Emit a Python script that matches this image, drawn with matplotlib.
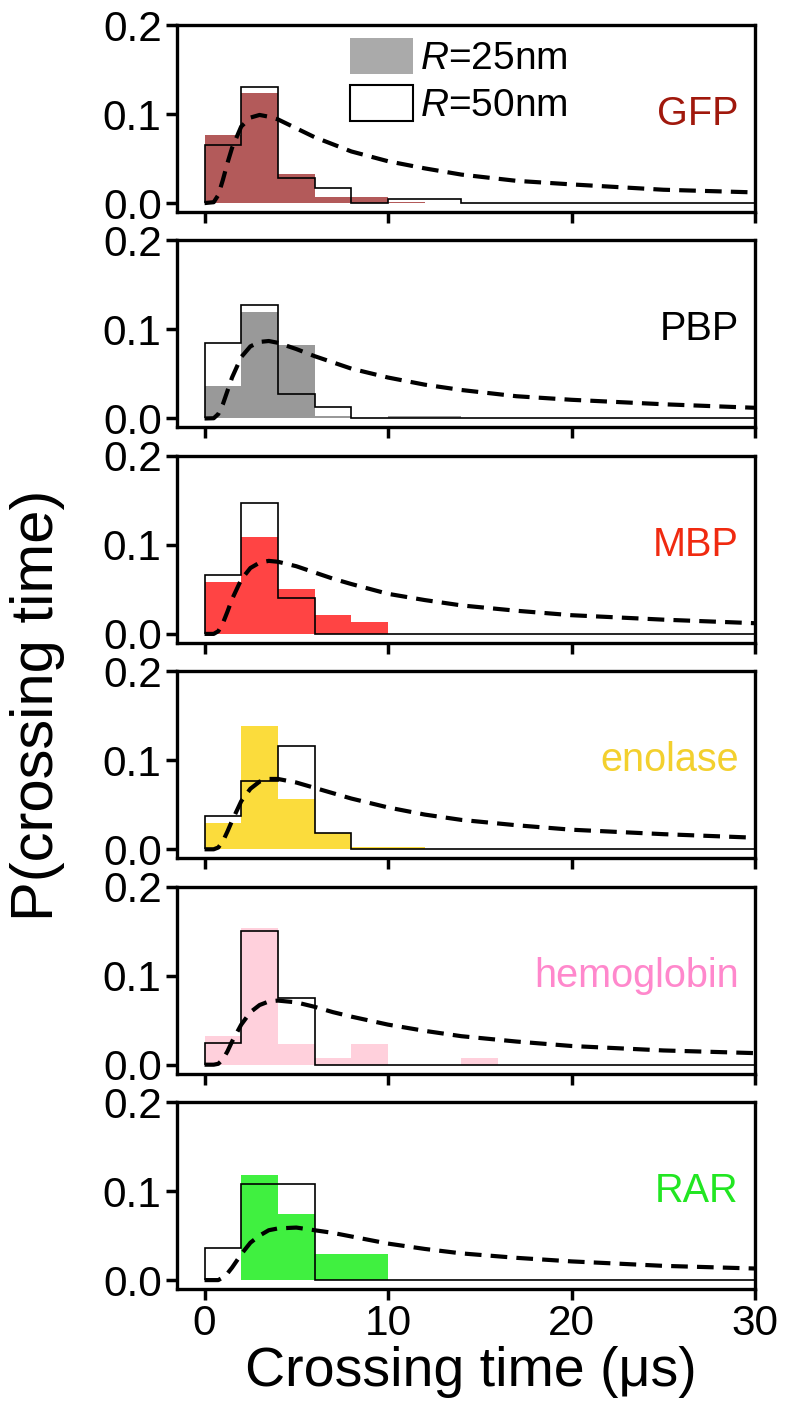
import matplotlib
matplotlib.use("Agg")
import matplotlib.pyplot as plt
from matplotlib.patches import Patch
import numpy as np

plt.rcParams['font.family'] = ['Liberation Sans', 'DejaVu Sans']
plt.rcParams['mathtext.fontset'] = 'custom'
plt.rcParams['mathtext.it'] = 'Liberation Sans:italic'
plt.rcParams['mathtext.rm'] = 'Liberation Sans'

# ---------------- data ----------------
proteins = ["GFP", "PBP", "MBP", "enolase", "hemoglobin", "RAR"]
bin_edges = [0, 2, 4, 6, 8, 10, 12, 14, 16, 18, 20, 22, 24, 26, 28, 30]

fill_gfp = [0.076, 0.124, 0.033, 0.0065, 0.0065, 0.001, 0, 0, 0, 0, 0, 0, 0, 0, 0]
fill_pbp = [0.037, 0.120, 0.083, 0.003, 0, 0.0023, 0.0023, 0, 0, 0, 0, 0, 0, 0, 0]
fill_mbp = [0.058, 0.109, 0.050, 0.021, 0.0135, 0, 0, 0, 0, 0, 0, 0, 0, 0, 0]
fill_eno = [0.029, 0.139, 0.056, 0.018, 0.003, 0.003, 0, 0, 0, 0, 0, 0, 0, 0, 0]
fill_hem = [0.032, 0.153, 0.0235, 0.007, 0.0235, 0, 0, 0.007, 0, 0, 0, 0, 0, 0, 0]
fill_rar = [0, 0.118, 0.074, 0.029, 0.029, 0, 0, 0, 0, 0, 0, 0, 0, 0, 0]

out_gfp = [0.065, 0.130, 0.028, 0.0165, 0, 0.005, 0.005, 0, 0, 0, 0, 0, 0, 0, 0]
out_pbp = [0.085, 0.127, 0.028, 0.0127, 0, 0, 0, 0, 0, 0, 0, 0, 0, 0, 0]
out_mbp = [0.0665, 0.1465, 0.040, 0, 0, 0, 0, 0, 0, 0, 0, 0, 0, 0, 0]
out_eno = [0.0375, 0.077, 0.116, 0.018, 0, 0, 0, 0, 0, 0, 0, 0, 0, 0, 0]
out_hem = [0.024, 0.150, 0.075, 0, 0, 0, 0, 0, 0, 0, 0, 0, 0, 0, 0]
out_rar = [0.036, 0.1075, 0.1075, 0, 0, 0, 0, 0, 0, 0, 0, 0, 0, 0, 0]

curve_t = [0, 0.5, 0.75, 1, 1.25, 1.5, 2, 2.5, 3, 3.5, 4, 5, 6, 7, 8, 10, 12, 14, 17, 20, 25, 30]
curve_gfp = [0, 0.001, 0.009, 0.026, 0.045, 0.062, 0.086, 0.096, 0.099, 0.097, 0.094, 0.084, 0.074, 0.066, 0.058, 0.047, 0.039, 0.032, 0.025, 0.021, 0.015, 0.012]
curve_pbp = [0, 0.0003, 0.005, 0.016, 0.031, 0.046, 0.069, 0.081, 0.086, 0.087, 0.085, 0.078, 0.070, 0.063, 0.056, 0.046, 0.038, 0.032, 0.025, 0.021, 0.016, 0.012]
curve_mbp = [0, 0, 0.003, 0.012, 0.025, 0.039, 0.061, 0.074, 0.080, 0.082, 0.081, 0.076, 0.069, 0.062, 0.056, 0.045, 0.038, 0.032, 0.026, 0.021, 0.016, 0.012]
curve_eno = [0, 0, 0.002, 0.009, 0.020, 0.032, 0.054, 0.068, 0.076, 0.079, 0.079, 0.075, 0.069, 0.063, 0.057, 0.047, 0.039, 0.033, 0.027, 0.022, 0.017, 0.013]
curve_hem = [0, 0, 0.001, 0.006, 0.015, 0.026, 0.045, 0.059, 0.067, 0.071, 0.072, 0.070, 0.065, 0.059, 0.054, 0.045, 0.038, 0.032, 0.026, 0.021, 0.016, 0.013]
curve_rar = [0, 0, 0, 0.003, 0.0075, 0.014, 0.029, 0.042, 0.050, 0.056, 0.058, 0.059, 0.056, 0.053, 0.049, 0.041, 0.035, 0.030, 0.025, 0.021, 0.016, 0.013]

fill_colors = ["#b35a5a", "#999999", "#ff4444", "#fbdc3c", "#ffd0dc", "#40f040"]
label_colors = ["#a0180c", "#000000", "#f02a10", "#f3d02e", "#ff88cc", "#22e622"]

fills = [fill_gfp, fill_pbp, fill_mbp, fill_eno, fill_hem, fill_rar]
outs = [out_gfp, out_pbp, out_mbp, out_eno, out_hem, out_rar]
curves = [curve_gfp, curve_pbp, curve_mbp, curve_eno, curve_hem, curve_rar]

xticks = [0, 10, 20, 30]
yticks = [0.0, 0.1, 0.2]
ytick_labels = ["0.0", "0.1", "0.2"]

# ---------------- layout ----------------
W, H = 785, 1420
fig = plt.figure(figsize=(W / 100, H / 100), dpi=100)
left_px, right_px = 177, 755
top0, period, h_px = 25, 215.4, 187

axes = []
for k in range(6):
    top = top0 + period * k
    ax = fig.add_axes([left_px / W, 1 - (top + h_px) / H, (right_px - left_px) / W, h_px / H])
    axes.append(ax)

for k, ax in enumerate(axes):
    ax.stairs(fills[k], bin_edges, fill=True, color=fill_colors[k], linewidth=0, zorder=1)
    ax.stairs(outs[k], bin_edges, fill=False, color="black", linewidth=1.2, baseline=0, zorder=2)
    ax.plot(curve_t, curves[k], color="black", linestyle=(0, (4, 2.2)), linewidth=3.0, zorder=3)
    ax.set_xlim(-1.5, 30)
    ax.set_ylim(-0.01, 0.2)
    ax.set_xticks(xticks)
    ax.set_yticks(yticks)
    ax.set_yticklabels(ytick_labels)
    ax.tick_params(axis="both", direction="out", length=8, width=2.5, labelsize=30.5, pad=3)
    if k < 5:
        ax.set_xticklabels([])
    for sp in ax.spines.values():
        sp.set_linewidth(2.4)
    ax.text(0.972, 0.1, proteins[k], transform=ax.get_yaxis_transform(), ha="right", va="center",
            fontsize=28.5, color=label_colors[k])

handles = [Patch(facecolor="#aaaaaa", edgecolor="none"),
           Patch(facecolor="white", edgecolor="black", linewidth=1.5)]
axes[0].legend(handles, [r"$\mathit{R}$=25nm", r"$\mathit{R}$=50nm"], loc="upper left",
               bbox_to_anchor=(0.299, 0.93), frameon=False, fontsize=28, borderpad=0,
               borderaxespad=0, handlelength=1.62, handleheight=1.03, handletextpad=0.18,
               labelspacing=0.2)

fig.text(471 / W, 1 - 1372 / H, "Crossing time (μs)", ha="center", va="center", fontsize=40)
fig.text(38 / W, 1 - 705 / H, "P(crossing time)", ha="center", va="center", fontsize=43, rotation=90)

fig.savefig("out.png", dpi=100)
